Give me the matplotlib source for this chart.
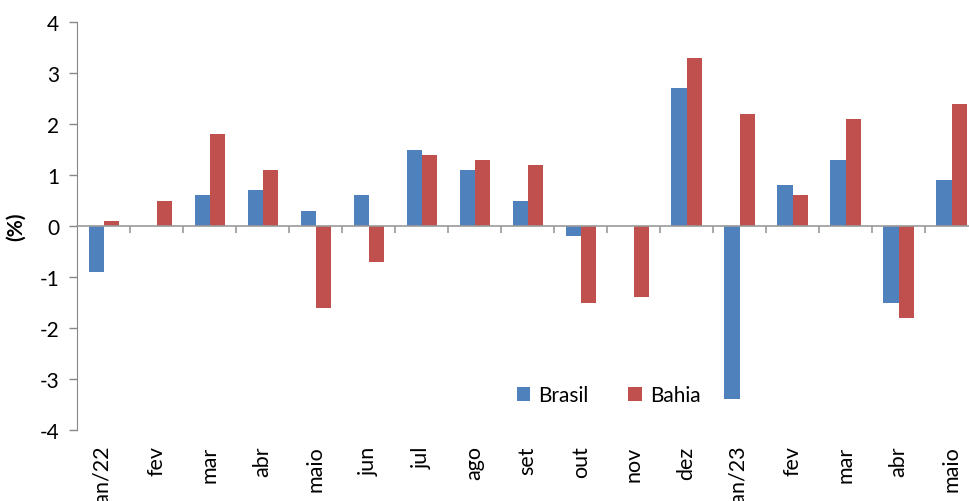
import matplotlib
matplotlib.use('Agg')
import matplotlib.pyplot as plt
import numpy as np

# data
meses = ['jan/22', 'fev', 'mar', 'abr', 'maio', 'jun', 'jul', 'ago', 'set',
         'out', 'nov', 'dez', 'jan/23', 'fev', 'mar', 'abr', 'maio']
brasil = [-0.9, 0.0, 0.6, 0.7, 0.3, 0.6, 1.5, 1.1, 0.5,
          -0.2, 0.0, 2.7, -3.4, 0.8, 1.3, -1.5, 0.9]
bahia = [0.1, 0.5, 1.8, 1.1, -1.6, -0.7, 1.4, 1.3, 1.2,
         -1.5, -1.4, 3.3, 2.2, 0.6, 2.1, -1.8, 2.4]

plt.rcParams['font.family'] = ['Lato', 'DejaVu Sans']
plt.rcParams['axes.unicode_minus'] = False

fig = plt.figure(figsize=(9.69, 5.02), dpi=100)
ax = fig.add_axes([77.3 / 969, 1 - 431 / 502, (978 - 77.3) / 969, (431 - 23) / 502])

x = np.arange(len(meses))
w = 0.285
ax.bar(x - w / 2, brasil, w, color='#4F81BD', label='Brasil', zorder=2)
ax.bar(x + w / 2, bahia, w, color='#C0504D', label='Bahia', zorder=2)

ax.set_xlim(-0.5, len(meses) - 0.5)
ax.set_ylim(-4, 4)
ax.set_yticks(range(-4, 5))
ax.tick_params(axis='y', direction='out', length=6, width=1, color='#888888',
               labelsize=15, pad=7)

# x axis on zero line, ticks at category boundaries
ax.spines['bottom'].set_position(('data', 0))
ax.spines['bottom'].set_color('#999999')
ax.spines['bottom'].set_linewidth(1.2)
ax.spines['left'].set_color('#888888')
ax.spines['top'].set_visible(False)
ax.spines['right'].set_visible(False)
ax.set_xticks(np.arange(0.5, len(meses) - 0.5, 1))
ax.set_xticklabels([])
ax.tick_params(axis='x', direction='out', length=5, width=1.2, color='#999999')

# month labels at the bottom
for i, m in enumerate(meses):
    ax.annotate(m, xy=(i, 0), xycoords=('data', 'axes fraction'),
                xytext=(0, -11), textcoords='offset points',
                rotation=90, ha='center', va='top', fontsize=15.5)

ax.set_ylabel('(%)', fontsize=15, fontweight='bold', labelpad=10)

ax.legend(loc='center', bbox_to_anchor=(0.59, 0.085), ncol=2, frameon=False,
          fontsize=15, handlelength=0.65, handleheight=0.65, handletextpad=0.4,
          columnspacing=1.9)

fig.savefig('out.png', dpi=100)
